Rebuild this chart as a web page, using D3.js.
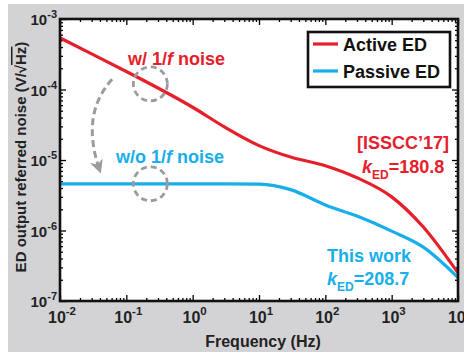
<!DOCTYPE html>
<html>
<head>
<meta charset="utf-8">
<script src="https://cdn.jsdelivr.net/npm/d3@7"></script>
<style>
  body { margin: 0; background: #fff; }
  text { font-family: "Liberation Sans", Arial, sans-serif; font-weight: bold; }
</style>
</head>
<body>
<div id="chart"></div>
<script>
// data
var freq = [0.01, 0.03, 0.1, 0.3, 1, 3, 10, 30, 100, 300, 1000, 3000, 10000];
var activeED = [5.4e-4, 3.2e-4, 1.8e-4, 1.05e-4, 5.6e-5, 2.95e-5, 1.6e-5, 1.1e-5, 8.3e-6, 5.6e-6, 3.0e-6, 1.12e-6, 2.5e-7];
var passiveED = [4.6e-6, 4.6e-6, 4.6e-6, 4.6e-6, 4.6e-6, 4.6e-6, 4.55e-6, 3.8e-6, 2.3e-6, 1.6e-6, 9.8e-7, 5.8e-7, 2.15e-7];
var xTickExp = [-2, -1, 0, 1, 2, 3, 4];
var yTickExp = [-7, -6, -5, -4, -3];
var seriesNames = ["Active ED", "Passive ED"];
var seriesColors = ["#e5202b", "#17aeea"];

var svgWidth = 464;
var svgHeight = 356;
var margin = { top: 19, right: 6, bottom: 55, left: 60 };
var width = svgWidth - margin.left - margin.right;
var height = svgHeight - margin.top - margin.bottom;

var svg = d3.select("#chart")
  .append("svg")
  .attr("width", svgWidth)
  .attr("height", svgHeight);

// gray panel behind the plot
svg.append("rect")
  .attr("x", 8).attr("y", 4)
  .attr("width", svgWidth - 8).attr("height", 348)
  .attr("fill", "#d3d3d5");

var chartGroup = svg.append("g")
  .attr("transform", `translate(${margin.left}, ${margin.top})`);

chartGroup.append("rect")
  .attr("width", width).attr("height", height)
  .attr("fill", "#fff");

var x = d3.scaleLog().domain([1e-2, 1e4]).range([0, width]);
var y = d3.scaleLog().domain([1e-7, 1e-3]).range([height, 0]);

// minor tick values
function minors(lo, hi) {
  var out = [];
  for (var d = lo; d < hi; d++) {
    for (var k = 2; k <= 9; k++) out.push(k * Math.pow(10, d));
  }
  return out;
}
var xMajor = xTickExp.map(e => Math.pow(10, e));
var yMajor = yTickExp.map(e => Math.pow(10, e));
var xMinor = minors(-2, 4);
var yMinor = minors(-7, -3);

function tickAxis(axis, vals, len) {
  return axis.tickValues(vals).tickSize(-len).tickSizeOuter(0).tickFormat("");
}
var axes = [
  [d3.axisBottom, x, `translate(0, ${height})`, xMajor, xMinor],
  [d3.axisTop, x, "translate(0, 0)", xMajor, xMinor],
  [d3.axisLeft, y, "translate(0, 0)", yMajor, yMinor],
  [d3.axisRight, y, `translate(${width}, 0)`, yMajor, yMinor]
];
axes.forEach(function(a) {
  [[a[3], 6], [a[4], 3]].forEach(function(t) {
    var g = chartGroup.append("g")
      .attr("transform", a[2])
      .call(tickAxis(a[0](a[1]), t[0], t[1]));
    g.select(".domain").remove();
    g.selectAll("line").attr("stroke", "#000").attr("stroke-width", 1.3);
  });
});

// curves
var line = d3.line()
  .x((d, i) => x(freq[i]))
  .y(d => y(d))
  .curve(d3.curveMonotoneX);

[activeED, passiveED].forEach(function(s, i) {
  chartGroup.append("path")
    .datum(s)
    .attr("d", line)
    .attr("fill", "none")
    .attr("stroke", seriesColors[i])
    .attr("stroke-width", 3.2);
});

// frame
chartGroup.append("rect")
  .attr("width", width).attr("height", height)
  .attr("fill", "none")
  .attr("stroke", "#111")
  .attr("stroke-width", 2.6);

// tick labels
chartGroup.selectAll(".xlab")
  .data(xTickExp)
  .enter()
  .append("text")
  .attr("x", d => x(Math.pow(10, d)) + 2)
  .attr("y", height + 22)
  .attr("text-anchor", "middle")
  .attr("font-size", 16)
  .attr("fill", "#222")
  .each(function(d) {
    var t = d3.select(this);
    t.append("tspan").text("10");
    t.append("tspan").attr("dy", -8).attr("font-size", 11.5).text(d);
  });

chartGroup.selectAll(".ylab")
  .data(yTickExp)
  .enter()
  .append("text")
  .attr("x", -3)
  .attr("y", d => y(Math.pow(10, d)) + 6)
  .attr("text-anchor", "end")
  .attr("font-size", 15)
  .attr("fill", "#222")
  .each(function(d) {
    var t = d3.select(this);
    t.append("tspan").text("10");
    t.append("tspan").attr("dy", -7).attr("font-size", 11).text(d);
  });

// axis titles
chartGroup.append("text")
  .attr("x", width / 2 + 4)
  .attr("y", height + 46)
  .attr("text-anchor", "middle")
  .attr("font-size", 16)
  .attr("fill", "#222")
  .text("Frequency (Hz)");

var yTitle = chartGroup.append("text")
  .attr("transform", `translate(-34, ${height / 2 - 3}) rotate(-90)`)
  .attr("text-anchor", "middle")
  .attr("font-size", 15)
  .attr("fill", "#222");
yTitle.append("tspan").text("ED output referred noise (V/\u221A");
yTitle.append("tspan").style("text-decoration", "overline").text("Hz");
yTitle.append("tspan").text(")");

// legend
var legend = chartGroup.append("g").attr("transform", "translate(248, 13)");
legend.append("rect")
  .attr("width", 142).attr("height", 55)
  .attr("fill", "#fff")
  .attr("stroke", "#111")
  .attr("stroke-width", 2.6);
seriesNames.forEach(function(name, i) {
  legend.append("line")
    .attr("x1", 5).attr("x2", 30)
    .attr("y1", 12 + i * 27).attr("y2", 12 + i * 27)
    .attr("stroke", seriesColors[i])
    .attr("stroke-width", 3.2);
  legend.append("text")
    .attr("x", 35).attr("y", 19 + i * 27)
    .attr("font-size", 18)
    .attr("fill", "#111")
    .text(name);
});

// annotations
var annoF = 0.23;
var gray = "#9b9b9d";
[1.2e-4, 4.6e-6].forEach(function(v) {
  chartGroup.append("circle")
    .attr("cx", x(annoF)).attr("cy", y(v))
    .attr("r", 17)
    .attr("fill", "none")
    .attr("stroke", gray)
    .attr("stroke-width", 2.8)
    .attr("stroke-dasharray", "6,4");
});

svg.append("defs").append("marker")
  .attr("id", "arrowhead")
  .attr("viewBox", "0 0 10 10")
  .attr("refX", 8).attr("refY", 5)
  .attr("markerWidth", 4.5).attr("markerHeight", 4.5)
  .attr("orient", "auto")
  .attr("markerUnits", "strokeWidth")
  .append("path")
  .attr("d", "M0,0 L10,5 L0,10 L3,5 z")
  .attr("fill", gray);

var arrowPts = [[0.061, 1.4e-4], [0.02, 4.4e-5], [0.04, 7.0e-6]];
chartGroup.append("path")
  .attr("d", `M${x(arrowPts[0][0])},${y(arrowPts[0][1])} Q${x(arrowPts[1][0])},${y(arrowPts[1][1])} ${x(arrowPts[2][0])},${y(arrowPts[2][1])}`)
  .attr("fill", "none")
  .attr("stroke", gray)
  .attr("stroke-width", 3)
  .attr("stroke-dasharray", "7,4")
  .attr("marker-end", "url(#arrowhead)");

function label(xp, yp, color, parts) {
  var t = svg.append("text")
    .attr("x", xp).attr("y", yp)
    .attr("font-size", 18)
    .attr("fill", color);
  parts.forEach(function(p) {
    var s = t.append("tspan").text(p.t);
    if (p.i) s.attr("font-style", "italic");
    if (p.sub) s.attr("font-size", 12).attr("dy", 6);
    if (p.up) s.attr("dy", -6);
  });
}
label(128, 65, seriesColors[0], [{ t: "w/ 1/" }, { t: "f", i: true }, { t: " noise" }]);
label(116, 163, seriesColors[1], [{ t: "w/o 1/" }, { t: "f", i: true }, { t: " noise" }]);
label(357, 149, seriesColors[0], [{ t: "[ISSCC\u201917]" }]);
label(362, 173, seriesColors[0], [{ t: "k", i: true }, { t: "ED", sub: true }, { t: "=180.8", up: true }]);
label(327, 262, seriesColors[1], [{ t: "This work" }]);
label(327, 285, seriesColors[1], [{ t: "k", i: true }, { t: "ED", sub: true }, { t: "=208.7", up: true }]);
</script>
</body>
</html>
